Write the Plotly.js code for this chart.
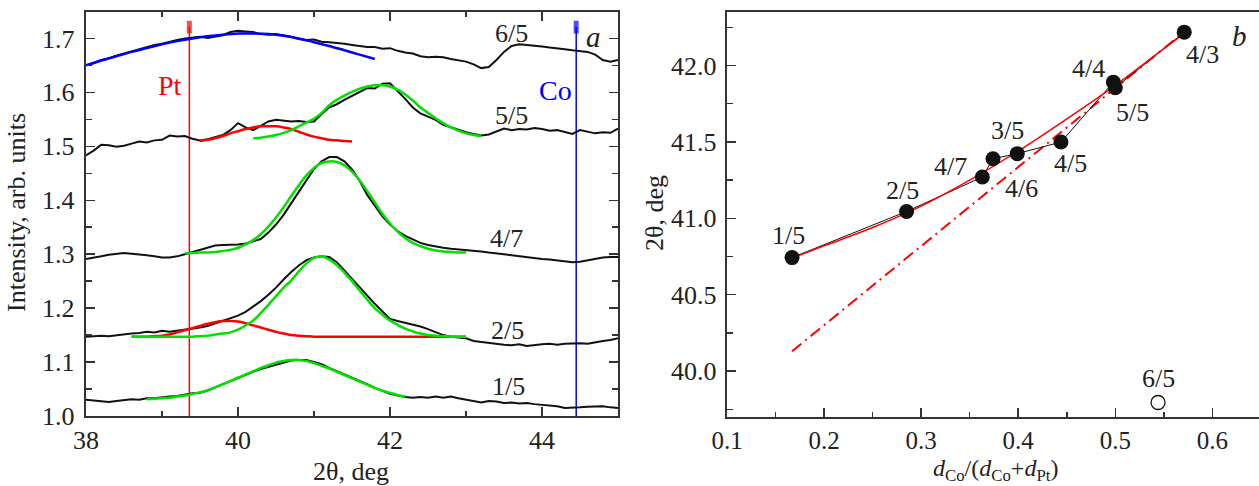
<!DOCTYPE html>
<html>
<head>
<meta charset="utf-8">
<script src="https://cdn.plot.ly/plotly-3.0.1.min.js"></script>
<style>html,body{margin:0;padding:0;background:#fff;}#chart{width:1259px;height:486px;}</style>
</head>
<body>
<div id="chart"></div>
<script>
// ---------- Panel a: XRD scans ----------
const twoTheta = [38.0,38.1,38.2,38.3,38.4,38.5,38.6,38.7,38.8,38.9,39.0,39.1,39.2,39.3,39.4,39.5,39.6,39.7,39.8,39.9,
  40.0,40.1,40.2,40.3,40.4,40.5,40.6,40.7,40.8,40.9,41.0,41.1,41.2,41.3,41.4,41.5,41.6,41.7,41.8,41.9,
  42.0,42.1,42.2,42.3,42.4,42.5,42.6,42.7,42.8,42.9,43.0,43.1,43.2,43.3,43.4,43.5,43.6,43.7,43.8,43.9,
  44.0,44.1,44.2,44.3,44.4,44.5,44.6,44.7,44.8,44.9,45.0];

const scan15 = [1.030,1.029,1.028,1.026,1.028,1.030,1.031,1.030,1.033,1.033,1.035,1.036,1.037,1.040,1.042,1.043,1.047,1.053,1.059,1.065,
  1.071,1.076,1.082,1.087,1.091,1.095,1.099,1.103,1.104,1.104,1.100,1.096,1.089,1.083,1.078,1.072,1.066,1.059,1.052,1.046,
  1.041,1.038,1.035,1.034,1.035,1.034,1.036,1.034,1.036,1.033,1.030,1.027,1.025,1.028,1.027,1.024,1.025,1.023,1.024,1.022,
  1.021,1.020,1.018,1.015,1.015,1.016,1.017,1.018,1.018,1.016,1.015];

const scan25 = [1.147,1.148,1.149,1.148,1.150,1.151,1.153,1.154,1.156,1.155,1.158,1.156,1.158,1.160,1.161,1.164,1.167,1.172,1.176,1.181,
  1.186,1.193,1.203,1.213,1.225,1.238,1.253,1.267,1.279,1.289,1.294,1.296,1.295,1.285,1.270,1.254,1.240,1.224,1.208,1.194,
  1.180,1.176,1.173,1.170,1.166,1.161,1.156,1.150,1.147,1.146,1.144,1.139,1.137,1.135,1.134,1.132,1.131,1.133,1.130,1.132,
  1.133,1.134,1.132,1.134,1.135,1.135,1.134,1.137,1.139,1.141,1.144];

const scan47 = [1.291,1.293,1.296,1.299,1.301,1.302,1.301,1.300,1.298,1.296,1.294,1.294,1.296,1.300,1.304,1.309,1.313,1.316,1.317,1.317,
  1.318,1.320,1.324,1.328,1.340,1.355,1.373,1.394,1.416,1.438,1.458,1.472,1.480,1.480,1.472,1.457,1.436,1.410,1.390,1.370,
  1.355,1.343,1.334,1.327,1.321,1.317,1.314,1.312,1.310,1.309,1.307,1.306,1.305,1.303,1.302,1.300,1.298,1.296,1.294,1.292,
  1.291,1.290,1.288,1.286,1.285,1.286,1.289,1.292,1.294,1.295,1.295];

const scan55 = [1.483,1.492,1.503,1.502,1.499,1.501,1.505,1.509,1.507,1.511,1.512,1.520,1.518,1.519,1.514,1.511,1.513,1.517,1.521,1.530,
  1.543,1.535,1.530,1.538,1.546,1.549,1.548,1.546,1.547,1.545,1.546,1.560,1.572,1.578,1.586,1.593,1.601,1.608,1.607,1.616,
  1.617,1.603,1.588,1.572,1.561,1.555,1.549,1.540,1.535,1.530,1.526,1.523,1.520,1.522,1.528,1.533,1.530,1.532,1.531,1.534,
  1.532,1.529,1.530,1.526,1.523,1.530,1.527,1.524,1.526,1.525,1.533];

const scan65 = [1.650,1.654,1.660,1.663,1.668,1.672,1.675,1.680,1.683,1.688,1.690,1.694,1.697,1.700,1.701,1.703,1.701,1.704,1.706,1.712,
  1.714,1.713,1.712,1.708,1.707,1.708,1.706,1.703,1.699,1.697,1.698,1.694,1.693,1.692,1.690,1.688,1.686,1.684,1.684,1.681,
  1.682,1.677,1.674,1.672,1.667,1.665,1.666,1.665,1.662,1.660,1.657,1.652,1.645,1.647,1.660,1.675,1.686,1.689,1.688,1.686,
  1.685,1.683,1.682,1.680,1.678,1.677,1.675,1.670,1.660,1.657,1.660];

// fitted components
const fit65X = [38.0,38.2,38.4,38.6,38.8,39.0,39.2,39.4,39.6,39.8,40.0,40.2,40.4,40.6,40.8,41.0,41.2,41.4,41.6,41.8];
const fit65Y = [1.650,1.659,1.667,1.675,1.682,1.689,1.695,1.700,1.704,1.707,1.709,1.709,1.708,1.705,1.700,1.693,1.686,1.678,1.670,1.662];

const fit55GX = [40.2,40.3,40.4,40.5,40.6,40.7,40.8,40.9,41.0,41.1,41.2,41.3,41.4,41.5,41.6,41.7,41.8,41.9,42.0,42.1,
  42.2,42.3,42.4,42.5,42.6,42.7,42.8,42.9,43.0,43.1,43.2];
const fit55GY = [1.515,1.516,1.518,1.521,1.525,1.530,1.537,1.544,1.551,1.562,1.576,1.586,1.594,1.601,1.607,1.611,1.613,1.613,1.611,1.605,
  1.596,1.585,1.572,1.562,1.552,1.543,1.535,1.529,1.524,1.521,1.519];
const fit55RX = [39.5,39.6,39.7,39.8,39.9,40.0,40.1,40.2,40.3,40.4,40.5,40.6,40.7,40.8,40.9,41.0,41.1,41.2,41.3,41.4,41.5];
const fit55RY = [1.510,1.512,1.515,1.519,1.524,1.528,1.532,1.535,1.537,1.537,1.537,1.535,1.532,1.527,1.522,1.518,1.515,1.512,1.511,1.510,1.509];

const fit47GX = [39.3,39.4,39.5,39.6,39.7,39.8,39.9,40.0,40.1,40.2,40.3,40.4,40.5,40.6,40.7,40.8,40.9,41.0,41.1,41.2,
  41.3,41.4,41.5,41.6,41.7,41.8,41.9,42.0,42.1,42.2,42.3,42.4,42.5,42.6,42.7,42.8,42.9,43.0];
const fit47GY = [1.302,1.302,1.303,1.303,1.304,1.306,1.308,1.312,1.318,1.326,1.337,1.351,1.368,1.387,1.408,1.428,1.446,1.460,1.469,1.472,
  1.471,1.465,1.453,1.437,1.417,1.396,1.375,1.357,1.342,1.330,1.321,1.315,1.310,1.307,1.305,1.304,1.303,1.303];

const fit25X = [38.6,38.7,38.8,38.9,39.0,39.1,39.2,39.3,39.4,39.5,39.6,39.7,39.8,39.9,40.0,40.1,40.2,40.3,40.4,40.5,
  40.6,40.7,40.8,40.9,41.0,41.1,41.2,41.3,41.4,41.5,41.6,41.7,41.8,41.9,42.0,42.1,42.2,42.3,42.4,42.5,
  42.6,42.7,42.8,42.9,43.0];
const fit25GY = [1.147,1.147,1.147,1.147,1.147,1.147,1.147,1.147,1.147,1.148,1.149,1.151,1.153,1.155,1.160,1.168,1.177,1.191,1.206,1.222,
  1.238,1.251,1.268,1.283,1.293,1.296,1.290,1.280,1.266,1.250,1.233,1.216,1.200,1.188,1.177,1.169,1.162,1.157,1.153,1.150,
  1.149,1.148,1.147,1.147,1.147];
const fit25RY = [1.147,1.147,1.147,1.148,1.149,1.151,1.155,1.159,1.163,1.167,1.171,1.174,1.176,1.176,1.175,1.172,1.168,1.164,1.160,1.156,
  1.153,1.150,1.149,1.148,1.147,1.147,1.147,1.147,1.147,1.147,1.147,1.147,1.147,1.147,1.147,1.147,1.147,1.147,1.147,1.147,
  1.147,1.147,1.147,1.147,1.147];

const fit15X = [38.8,38.9,39.0,39.1,39.2,39.3,39.4,39.5,39.6,39.7,39.8,39.9,40.0,40.1,40.2,40.3,40.4,40.5,40.6,40.7,
  40.8,40.9,41.0,41.1,41.2,41.3,41.4,41.5,41.6,41.7,41.8,41.9,42.0,42.1,42.2];
const fit15Y = [1.031,1.032,1.033,1.034,1.036,1.038,1.041,1.044,1.048,1.053,1.059,1.065,1.071,1.077,1.083,1.089,1.094,1.099,1.102,1.104,
  1.104,1.102,1.098,1.093,1.088,1.082,1.076,1.070,1.064,1.058,1.052,1.047,1.043,1.039,1.036];

const refNames = ['Pt','Co'];
const refPos = [39.36, 44.45];
const refSpan = [1.0, 1.721];
const curveLabels = ['1/5','2/5','4/7','5/5','6/5'];

// ---------- Panel b: peak position vs composition ----------
const sampleNames = ['1/5','2/5','4/7','3/5','4/6','4/5','4/4','5/5','4/3'];
const fraction = [0.167,0.285,0.363,0.374,0.399,0.444,0.498,0.500,0.571];
const peakPos = [40.743,41.045,41.270,41.390,41.423,41.499,41.891,41.854,42.218];
const outlierName = ['6/5'];
const outlierX = [0.544];
const outlierY = [39.795];
const trendX = [0.167,0.20,0.25,0.30,0.35,0.40,0.45,0.50,0.55,0.571];
const trendY = [40.74,40.82,40.94,41.08,41.25,41.44,41.65,41.87,42.11,42.21];
const vegardX = [0.167,0.571];
const vegardY = [40.13,42.22];

const GREEN = 'rgb(0,225,0)', RED = 'rgb(255,0,0)', BLUE = 'rgb(0,0,255)', BLK = '#111';
const FONT = 'Liberation Serif';

const traces = [];
const refColors = [RED, BLUE];
refPos.forEach((p,i)=>{
  traces.push({x:[p,p], y:refSpan, xaxis:'x', yaxis:'y', mode:'lines+markers', type:'scatter',
    line:{color:refColors[i], width:1.5},
    marker:{symbol:'line-ns', size:[0,9], color:refColors[i], line:{color:refColors[i], width:5}}, hoverinfo:'skip'});
});
const scans = [scan15, scan25, scan47, scan55, scan65];
scans.forEach(s=>{
  traces.push({x:twoTheta, y:s, xaxis:'x', yaxis:'y', mode:'lines', type:'scatter', line:{color:BLK, width:2}});
});
traces.push({x:fit65X, y:fit65Y, mode:'lines', line:{color:BLUE, width:2.5, shape:'spline'}});
traces.push({x:fit55RX, y:fit55RY, mode:'lines', line:{color:RED, width:2.5, shape:'spline'}});
traces.push({x:fit55GX, y:fit55GY, mode:'lines', line:{color:GREEN, width:2.5, shape:'spline'}});
traces.push({x:fit47GX, y:fit47GY, mode:'lines', line:{color:GREEN, width:2.5, shape:'spline'}});
traces.push({x:fit25X, y:fit25RY, mode:'lines', line:{color:RED, width:2.5, shape:'spline'}});
traces.push({x:fit25X, y:fit25GY, mode:'lines', line:{color:GREEN, width:2.5, shape:'spline'}});
traces.push({x:fit15X, y:fit15Y, mode:'lines', line:{color:GREEN, width:2.5, shape:'spline'}});

traces.push({x:vegardX, y:vegardY, xaxis:'x2', yaxis:'y2', mode:'lines', line:{color:RED, width:2, dash:'12px,5px,2px,5px'}});
traces.push({x:fraction, y:peakPos, xaxis:'x2', yaxis:'y2', mode:'lines', line:{color:BLK, width:1}});
traces.push({x:trendX, y:trendY, xaxis:'x2', yaxis:'y2', mode:'lines', line:{color:RED, width:1.5, shape:'spline'}});
traces.push({x:fraction, y:peakPos, xaxis:'x2', yaxis:'y2', mode:'markers', marker:{color:BLK, size:15}});
traces.push({x:outlierX, y:outlierY, xaxis:'x2', yaxis:'y2', mode:'markers', marker:{color:'white', size:14, line:{color:BLK, width:1.3}}});

const axisCommon = {ticks:'inside', tickcolor:'#333', tickwidth:1.5, ticklen:9, showline:true, linewidth:2.2, linecolor:'#333',
  showgrid:false, zeroline:false, tickfont:{family:FONT, size:26, color:'#222'}};
const minorCommon = {ticks:'inside', ticklen:5, tickwidth:1.5, tickcolor:'#333', showgrid:false};

const ann = [];
function A(o){ return Object.assign({showarrow:false, xanchor:'center', yanchor:'middle', font:{family:FONT, size:26, color:'#222'}}, o); }
const labelPos = [[43.56,1.054],[43.55,1.159],[43.53,1.330],[43.6,1.557],[43.6,1.709]];
curveLabels.forEach((t,i)=>ann.push(A({text:t, x:labelPos[i][0], y:labelPos[i][1], xref:'x', yref:'y'})));
ann.push(A({text:refNames[0], x:39.11, y:1.613, xref:'x', yref:'y', font:{family:FONT, size:28, color:RED}}));
ann.push(A({text:refNames[1], x:44.18, y:1.604, xref:'x', yref:'y', font:{family:FONT, size:28, color:BLUE}}));
ann.push(A({text:'<i>a</i>', x:44.68, y:1.702, xref:'x', yref:'y', font:{family:FONT, size:29, color:'#222'}}));
ann.push(A({text:'<i>b</i>', x:0.628, y:42.196, xref:'x2', yref:'y2', font:{family:FONT, size:29, color:'#222'}}));
const shifts = [[-4,22],[-4,21],[-32,11],[14,28],[4,-35],[10,-21],[-25,14],[17,-25],[18,-22]];
sampleNames.forEach((t,i)=>ann.push(A({text:t, x:fraction[i], y:peakPos[i], xref:'x2', yref:'y2',
  xshift:shifts[i][0], yshift:shifts[i][1]})));
ann.push(A({text:outlierName[0], x:outlierX[0], y:outlierY[0], xref:'x2', yref:'y2', yshift:24}));
const TF = {family:FONT, size:26, color:'#222'};
ann.push(A({text:'Intensity, arb. units', x:17/1259, y:1-213/486, xref:'paper', yref:'paper', textangle:-90, font:TF}));
ann.push(A({text:'2θ, deg', x:351/1259, y:1-471/486, xref:'paper', yref:'paper', font:TF}));
ann.push(A({text:'2θ, deg', x:655/1259, y:1-213/486, xref:'paper', yref:'paper', textangle:-90, font:TF}));
ann.push(A({text:'<i>d</i><sub>Co</sub>/(<i>d</i><sub>Co</sub>+<i>d</i><sub>Pt</sub>)', x:995/1259, y:1-470/486, xref:'paper', yref:'paper', font:{family:FONT, size:24, color:'#222'}}));

const layout = {
  width:1259, height:486, margin:{l:0, r:0, t:0, b:0}, showlegend:false,
  paper_bgcolor:'white', plot_bgcolor:'white',
  font:{family:FONT, size:26, color:'#222'},
  xaxis:Object.assign({}, axisCommon, {domain:[86/1259, 618/1259], range:[38,45], tick0:38, dtick:2, mirror:'ticks', anchor:'y',
    minor:Object.assign({}, minorCommon, {dtick:1})}),
  yaxis:Object.assign({}, axisCommon, {domain:[70/486, 474/486], range:[1.0,1.749], tick0:1.0, dtick:0.1, tickformat:'.1f', mirror:'ticks', anchor:'x',
    ticklabelstandoff:4, minor:Object.assign({}, minorCommon, {dtick:0.05, ticklen:6})}),
  xaxis2:Object.assign({}, axisCommon, {domain:[727/1259, 1], range:[0.1,0.648], tick0:0.1, dtick:0.1, tickformat:'.1f', mirror:true, anchor:'y2',
    tickfont:{family:FONT, size:25, color:'#222'}, minor:Object.assign({}, minorCommon, {dtick:0.05})}),
  yaxis2:Object.assign({}, axisCommon, {domain:[69/486, 474/486], range:[39.7,42.35], tick0:40, dtick:0.5, tickformat:'.1f', mirror:false, anchor:'x2',
    ticklabelstandoff:3, minor:Object.assign({}, minorCommon, {dtick:0.25, ticklen:6})}),
  annotations:ann
};
Plotly.newPlot('chart', traces, layout, {displayModeBar:false, staticPlot:true});
</script>
</body>
</html>
